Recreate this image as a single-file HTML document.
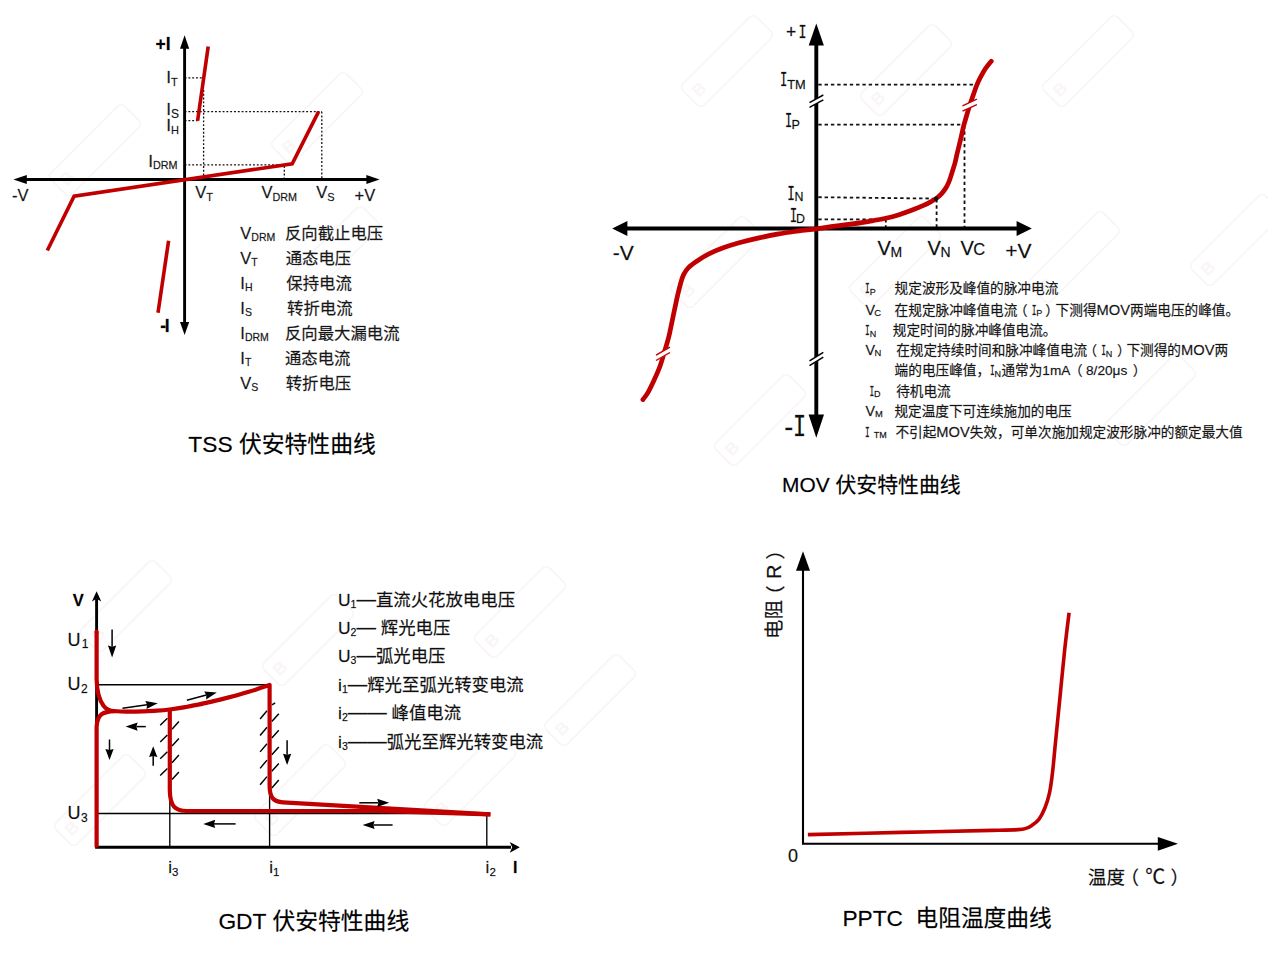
<!DOCTYPE html>
<html lang="zh-CN">
<head>
<meta charset="utf-8">
<title>TSS / MOV / GDT / PPTC 特性曲线</title>
<style>
html,body{margin:0;padding:0;background:#fff;}
body{width:1268px;height:958px;overflow:hidden;}
svg{display:block;}
text{white-space:pre;stroke:#000;stroke-width:.32px;stroke-opacity:.55;}
</style>
</head>
<body>
<svg width="1268" height="958" viewBox="0 0 1268 958">
<rect width="1268" height="958" fill="#fff"/>
<g id="wm" fill="none" stroke="#f9f5f5" stroke-width="1.6" font-family='"Liberation Sans", sans-serif' font-weight="bold" font-size="17">
<g transform="translate(317 118) rotate(-45)"><rect x="-52" y="-15" width="104" height="30" rx="5"/><text x="-46" y="6" fill="#faf6f6" stroke="none" style="stroke:none">B</text></g>
<g transform="translate(334 252) rotate(-45)"><rect x="-52" y="-15" width="104" height="30" rx="5"/><text x="-46" y="6" fill="#faf6f6" stroke="none" style="stroke:none">B</text></g>
<g transform="translate(95 150) rotate(-45)"><rect x="-52" y="-15" width="104" height="30" rx="5"/><text x="-46" y="6" fill="#faf6f6" stroke="none" style="stroke:none">B</text></g>
<g transform="translate(727 61) rotate(-45)"><rect x="-52" y="-15" width="104" height="30" rx="5"/><text x="-46" y="6" fill="#faf6f6" stroke="none" style="stroke:none">B</text></g>
<g transform="translate(906 70) rotate(-45)"><rect x="-52" y="-15" width="104" height="30" rx="5"/><text x="-46" y="6" fill="#faf6f6" stroke="none" style="stroke:none">B</text></g>
<g transform="translate(1088 61) rotate(-45)"><rect x="-52" y="-15" width="104" height="30" rx="5"/><text x="-46" y="6" fill="#faf6f6" stroke="none" style="stroke:none">B</text></g>
<g transform="translate(716 262) rotate(-45)"><rect x="-52" y="-15" width="104" height="30" rx="5"/><text x="-46" y="6" fill="#faf6f6" stroke="none" style="stroke:none">B</text></g>
<g transform="translate(895 262) rotate(-45)"><rect x="-52" y="-15" width="104" height="30" rx="5"/><text x="-46" y="6" fill="#faf6f6" stroke="none" style="stroke:none">B</text></g>
<g transform="translate(1074 257) rotate(-45)"><rect x="-52" y="-15" width="104" height="30" rx="5"/><text x="-46" y="6" fill="#faf6f6" stroke="none" style="stroke:none">B</text></g>
<g transform="translate(1236 240) rotate(-45)"><rect x="-52" y="-15" width="104" height="30" rx="5"/><text x="-46" y="6" fill="#faf6f6" stroke="none" style="stroke:none">B</text></g>
<g transform="translate(760 420) rotate(-45)"><rect x="-52" y="-15" width="104" height="30" rx="5"/><text x="-46" y="6" fill="#faf6f6" stroke="none" style="stroke:none">B</text></g>
<g transform="translate(1150 400) rotate(-45)"><rect x="-52" y="-15" width="104" height="30" rx="5"/><text x="-46" y="6" fill="#faf6f6" stroke="none" style="stroke:none">B</text></g>
<g transform="translate(126 606) rotate(-45)"><rect x="-52" y="-15" width="104" height="30" rx="5"/><text x="-46" y="6" fill="#faf6f6" stroke="none" style="stroke:none">B</text></g>
<g transform="translate(308 640) rotate(-45)"><rect x="-52" y="-15" width="104" height="30" rx="5"/><text x="-46" y="6" fill="#faf6f6" stroke="none" style="stroke:none">B</text></g>
<g transform="translate(520 612) rotate(-45)"><rect x="-52" y="-15" width="104" height="30" rx="5"/><text x="-46" y="6" fill="#faf6f6" stroke="none" style="stroke:none">B</text></g>
<g transform="translate(100 800) rotate(-45)"><rect x="-52" y="-15" width="104" height="30" rx="5"/><text x="-46" y="6" fill="#faf6f6" stroke="none" style="stroke:none">B</text></g>
<g transform="translate(300 790) rotate(-45)"><rect x="-52" y="-15" width="104" height="30" rx="5"/><text x="-46" y="6" fill="#faf6f6" stroke="none" style="stroke:none">B</text></g>
<g transform="translate(470 780) rotate(-45)"><rect x="-52" y="-15" width="104" height="30" rx="5"/><text x="-46" y="6" fill="#faf6f6" stroke="none" style="stroke:none">B</text></g>
<g transform="translate(590 700) rotate(-45)"><rect x="-52" y="-15" width="104" height="30" rx="5"/><text x="-46" y="6" fill="#faf6f6" stroke="none" style="stroke:none">B</text></g>
</g>
<g id="tss">
<g stroke="#111" stroke-width="1.3" stroke-dasharray="1.9 1.9" fill="none">
<path d="M184.6 77.8H203.4"/>
<path d="M184.6 111.7H322"/>
<path d="M184.6 120.7H197.5"/>
<path d="M184.6 164.9H291"/>
<path d="M203.6 90V179.5"/>
<path d="M284.3 166V179.5"/>
<path d="M321.8 111.7V179.5"/>
</g>
<path d="M26 179.5H367" stroke="#000" stroke-width="2.9" fill="none"/>
<path d="M184.6 48V323" stroke="#000" stroke-width="2.9" fill="none"/>
<polygon points="13.4,179.5 26.8,175.1 26.8,183.9" fill="#000"/>
<polygon points="379.6,179.5 366.4,175.1 366.4,183.9" fill="#000"/>
<polygon points="184.6,35.3 180.0,48.8 189.2,48.8" fill="#000"/>
<polygon points="184.6,335 180.0,322 189.2,322" fill="#000"/>
<path d="M47.3 250.5L74.1 196.1L292.2 163.8L318.6 111.6" stroke="#c00000" stroke-width="3.6" fill="none" stroke-linejoin="miter"/>
<path d="M208.2 46.6L197.6 120.7" stroke="#c00000" stroke-width="3.6" fill="none" stroke-linejoin="miter"/>
<path d="M168.6 240.7L158 312.8" stroke="#c00000" stroke-width="3.6" fill="none" stroke-linejoin="miter"/>
<g font-family='"Liberation Sans", "Noto Sans CJK SC", sans-serif' fill="#1a1a1a">
<text x="155.6" y="49.9" font-size="17.5" font-weight="bold" fill="#000">+I</text>
<text x="160.2" y="332" font-size="17.5" font-weight="bold" fill="#000">-<tspan dx="-1.3">I</tspan></text>
<text x="166.2" y="83.0" font-size="17.2">I<tspan font-size="11" dy="3" dx="0">T</tspan></text>
<text x="166.2" y="115.2" font-size="17.2">I<tspan font-size="12" dy="3" dx="0">S</tspan></text>
<text x="166.2" y="131.3" font-size="17.2">I<tspan font-size="11" dy="3" dx="0">H</tspan></text>
<text x="148.2" y="167.0" font-size="17.2">I<tspan font-size="10.8" dy="2.4" dx="0">DRM</tspan></text>
<text x="12" y="201.3" font-size="16.5">-V</text>
<text x="195.3" y="197.9" font-size="16.5">V<tspan font-size="11" dy="3" dx="0">T</tspan></text>
<text x="261.5" y="197.9" font-size="16.5">V<tspan font-size="10.8" dy="3" dx="0">DRM</tspan></text>
<text x="316.2" y="197.9" font-size="16.5">V<tspan font-size="11" dy="3" dx="0">S</tspan></text>
<text x="354.5" y="201.3" font-size="16.5">+V</text>
<text x="240.3" y="239.2" font-size="16.5">V<tspan font-size="10.5" dy="2.2" dx="0">DRM</tspan></text>
<text x="284.9" y="239.2" font-size="16.4">反向截止电压</text>
<text x="240.3" y="264.2" font-size="16.5">V<tspan font-size="10.5" dy="2.2" dx="0">T</tspan></text>
<text x="285.7" y="264.2" font-size="16.4">通态电压</text>
<text x="240.3" y="289.2" font-size="16.5">I<tspan font-size="10.5" dy="2.2" dx="0">H</tspan></text>
<text x="286.3" y="289.2" font-size="16.4">保持电流</text>
<text x="240.3" y="314.1" font-size="16.5">I<tspan font-size="10.5" dy="2.2" dx="0">S</tspan></text>
<text x="287.1" y="314.1" font-size="16.4">转折电流</text>
<text x="240.3" y="339.1" font-size="16.5">I<tspan font-size="10.5" dy="2.2" dx="0">DRM</tspan></text>
<text x="284.9" y="339.1" font-size="16.4">反向最大漏电流</text>
<text x="240.3" y="364.1" font-size="16.5">I<tspan font-size="10.5" dy="2.2" dx="0">T</tspan></text>
<text x="284.9" y="364.1" font-size="16.4">通态电流</text>
<text x="240.3" y="389.1" font-size="16.5">V<tspan font-size="10.5" dy="2.2" dx="0">S</tspan></text>
<text x="285.7" y="389.1" font-size="16.4">转折电压</text>
<text x="188.3" y="451.8" font-size="22.8" fill="#000">TSS 伏安特性曲线</text>
</g>
</g>
<g id="mov">
<g stroke="#111" stroke-width="1.8" stroke-dasharray="3.4 2.9" fill="none">
<path d="M818.3 84.6H975"/>
<path d="M818.3 124.6H964"/>
<path d="M818.3 197.2L936 198.6"/>
<path d="M818.3 219.4H886"/>
<path d="M885.8 219V228.5"/>
<path d="M936.6 199V228.5"/>
<path d="M964.5 125V228.5"/>
</g>
<path d="M626 228.5H1018" stroke="#000" stroke-width="3.9" fill="none"/>
<path d="M816.3 44V416" stroke="#000" stroke-width="3.9" fill="none"/>
<polygon points="612.2,228.5 627.4,220.9 627.4,236.1" fill="#000"/>
<polygon points="1031.8,228.5 1016.6,220.9 1016.6,236.1" fill="#000"/>
<polygon points="816.3,23.6 808.6999999999999,45.4 823.9,45.4" fill="#000"/>
<polygon points="816.3,437.8 808.5999999999999,414.4 824.0,414.4" fill="#000"/>
<path d="M642.9 399.6C643.7 398.4 646.1 395.8 647.9 392.6C649.7 389.5 651.8 385.0 653.8 380.7C655.8 376.4 658.0 371.8 659.8 366.8C661.6 361.9 663.2 355.9 664.7 351.0C666.2 346.1 667.5 341.7 668.7 337.1C669.9 332.5 670.7 327.8 671.7 323.2C672.7 318.6 673.6 313.9 674.6 309.3C675.6 304.7 676.6 299.7 677.6 295.4C678.6 291.1 679.6 287.0 680.6 283.5C681.6 280.0 682.3 277.2 683.6 274.6C684.9 272.0 686.2 269.9 688.5 267.6C690.8 265.3 694.0 263.0 697.5 260.7C701.0 258.4 705.1 255.8 709.4 253.7C713.7 251.5 718.3 249.6 723.3 247.8C728.2 246.0 733.1 244.5 739.1 242.8C745.1 241.2 752.4 239.4 759.0 237.9C765.6 236.4 772.2 235.1 778.8 233.9C785.4 232.7 792.4 231.8 798.7 230.9C805.0 230.1 810.3 229.6 816.4 228.8C822.5 228.0 828.9 227.0 835.2 226.2C841.5 225.3 847.9 224.6 854.2 223.7C860.5 222.8 867.9 221.5 873.1 220.6C878.4 219.7 881.5 219.2 885.7 218.3C889.9 217.4 894.1 216.2 898.3 214.9C902.5 213.6 906.7 212.1 910.9 210.5C915.1 208.9 920.2 206.9 923.6 205.4C927.0 203.9 929.0 202.8 931.1 201.6C933.2 200.4 934.5 199.8 936.2 198.5C937.9 197.2 939.6 195.8 941.2 194.1C942.8 192.4 944.3 190.4 945.6 188.4C946.9 186.4 947.7 184.7 948.8 182.1C949.9 179.5 951.0 175.9 952.0 172.6C953.0 169.3 954.3 165.6 955.1 162.5C955.9 159.4 956.1 157.8 957.0 154.0C957.9 150.2 959.5 144.0 960.6 139.4C961.7 134.8 962.6 130.1 963.6 126.2C964.6 122.3 965.5 119.5 966.5 116.0C967.5 112.5 968.7 108.4 969.8 105.0C970.9 101.6 972.0 98.8 973.1 95.5C974.2 92.2 975.5 88.3 976.7 85.3C977.9 82.3 978.9 80.1 980.4 77.3C981.9 74.5 983.7 71.2 985.5 68.5C987.3 65.8 990.3 62.4 991.3 61.2" stroke="#c00000" stroke-width="4.7" fill="none" stroke-linecap="round" stroke-linejoin="round"/>
<path d="M809.5 105.0L823.3 97.4" stroke="#fff" stroke-width="4.8" fill="none"/>
<path d="M809.5 102.6L823.3 95.0" stroke="#000" stroke-width="1.5" fill="none"/>
<path d="M809.5 107.4L823.3 99.8" stroke="#000" stroke-width="1.5" fill="none"/>
<path d="M809.5 363.2L823.3 354.8" stroke="#fff" stroke-width="4.8" fill="none"/>
<path d="M809.5 360.8L823.3 352.4" stroke="#000" stroke-width="1.5" fill="none"/>
<path d="M809.5 365.6L823.3 357.2" stroke="#000" stroke-width="1.5" fill="none"/>
<path d="M962.5 108.5L976.9 101.9" stroke="#fff" stroke-width="5.4" fill="none"/>
<path d="M962.5 105.8L976.9 99.2" stroke="#c00000" stroke-width="1.4" fill="none"/>
<path d="M962.5 111.2L976.9 104.6" stroke="#c00000" stroke-width="1.4" fill="none"/>
<path d="M656.0 357.8L670.0 349.8" stroke="#fff" stroke-width="5.4" fill="none"/>
<path d="M656.0 355.1L670.0 347.1" stroke="#c00000" stroke-width="1.4" fill="none"/>
<path d="M656.0 360.5L670.0 352.5" stroke="#c00000" stroke-width="1.4" fill="none"/>
<circle cx="936" cy="198.7" r="2.3" fill="#111"/>
<g font-family='"Liberation Sans", "Noto Sans CJK SC", sans-serif' fill="#111">
<text x="786" y="38.3" font-size="17.5">+</text>
<text transform="translate(798.50 38.3) scale(0.785 1)" font-family='"DejaVu Sans Mono", "Liberation Mono", monospace' font-size="17.0" fill="#111">I</text>
<text transform="translate(779.91 85.5) scale(0.629 1)" font-family='"DejaVu Sans Mono", "Liberation Mono", monospace' font-size="19.3" fill="#111">I</text>
<text x="787.2" y="89" font-size="12.8">TM</text>
<text transform="translate(785.03 126.6) scale(0.621 1)" font-family='"DejaVu Sans Mono", "Liberation Mono", monospace' font-size="19.2" fill="#111">I</text>
<text x="791.4" y="129.4" font-size="12.6">P</text>
<text transform="translate(787.26 199.6) scale(0.631 1)" font-family='"DejaVu Sans Mono", "Liberation Mono", monospace' font-size="20.0" fill="#111">I</text>
<text x="794.4" y="201.4" font-size="12.4">N</text>
<text transform="translate(789.69 221.6) scale(0.636 1)" font-family='"DejaVu Sans Mono", "Liberation Mono", monospace' font-size="19.5" fill="#111">I</text>
<text x="796" y="223.2" font-size="12.4">D</text>
<text x="612.8" y="259.8" font-size="21">-V</text>
<text x="877.6" y="254.8" font-size="20">V<tspan font-size="14" dy="2.4" dx="-0.5">M</tspan></text>
<text x="927.6" y="254.8" font-size="20">V<tspan font-size="14" dy="2.4" dx="-0.5">N</tspan></text>
<text x="960.4" y="254.8" font-size="20">V<tspan font-size="16.5" dy="0" dx="-0.6">C</tspan></text>
<text x="1005.2" y="257.8" font-size="21">+V</text>
<text x="784.2" y="435.8" font-size="27">-</text>
<text transform="translate(793.03 435.8) scale(0.754 1)" font-family='"DejaVu Sans Mono", "Liberation Mono", monospace' font-size="29.0" fill="#111">I</text>
</g>
<g font-family='"Liberation Sans", "Noto Sans CJK SC", sans-serif' fill="#1a1a1a" font-size="13.65">
<text transform="translate(865.09 293) scale(0.579 1)" font-family='"DejaVu Sans Mono", "Liberation Mono", monospace' font-size="13.6" fill="#1a1a1a">I</text>
<text x="869.7" y="294.6" font-size="9.0">P</text>
<text x="894.6" y="293">规定波形及峰值的脉冲电流</text>
<text x="865.6" y="314.6" font-size="14.3">V</text>
<text x="874.2" y="315.6" font-size="9.4">C</text>
<text x="894.6" y="314.6">在规定脉冲峰值电流</text>
<text x="1013.88" y="314.6">（</text>
<text transform="translate(1031.69 314.6) scale(0.579 1)" font-family='"DejaVu Sans Mono", "Liberation Mono", monospace' font-size="13.6" fill="#1a1a1a">I</text>
<text x="1036.3" y="316.2" font-size="9.0">P</text>
<text x="1045.15" y="314.6">）</text>
<text x="1055.6" y="314.6">下测得<tspan font-size="14.7">MOV</tspan>两端电压的峰值。</text>
<text transform="translate(865.09 334.9) scale(0.579 1)" font-family='"DejaVu Sans Mono", "Liberation Mono", monospace' font-size="13.6" fill="#1a1a1a">I</text>
<text x="869.7" y="336.5" font-size="9.0">N</text>
<text x="892.8" y="334.9">规定时间的脉冲峰值电流。</text>
<text x="865.6" y="355.4" font-size="14.3">V</text>
<text x="874.6" y="356.4" font-size="9.4">N</text>
<text x="896.2" y="355.4">在规定持续时间和脉冲峰值电流</text>
<text x="1083.48" y="355.4">（</text>
<text transform="translate(1101.19 355.4) scale(0.579 1)" font-family='"DejaVu Sans Mono", "Liberation Mono", monospace' font-size="13.6" fill="#1a1a1a">I</text>
<text x="1105.8" y="357.0" font-size="9.0">N</text>
<text x="1117.05" y="355.4">）</text>
<text x="1126.4" y="355.4">下测得的<tspan font-size="14.7">MOV</tspan>两</text>
<text x="894.6" y="375.4">端的电压峰值，</text>
<text transform="translate(989.99 375.4) scale(0.579 1)" font-family='"DejaVu Sans Mono", "Liberation Mono", monospace' font-size="13.6" fill="#1a1a1a">I</text>
<text x="994.6" y="377.0" font-size="9.0">N</text>
<text x="1001.4" y="375.4">通常为1mA</text>
<text x="1068.88" y="375.4">（</text>
<text x="1086.0" y="375.4">8/20μs</text>
<text x="1132.75" y="375.4">）</text>
<text transform="translate(869.49 395.6) scale(0.579 1)" font-family='"DejaVu Sans Mono", "Liberation Mono", monospace' font-size="13.6" fill="#1a1a1a">I</text>
<text x="874.1" y="397.2" font-size="9.0">D</text>
<text x="896.2" y="395.6">待机电流</text>
<text x="865.6" y="416.3" font-size="14.3">V</text>
<text x="875.0" y="417.3" font-size="9.4">M</text>
<text x="894.4" y="416.3">规定温度下可连续施加的电压</text>
<text transform="translate(865.09 436.8) scale(0.579 1)" font-family='"DejaVu Sans Mono", "Liberation Mono", monospace' font-size="13.6" fill="#1a1a1a">I</text>
<text x="873.8" y="438.4" font-size="9.0">TM</text>
<text x="895.4" y="436.8">不引起<tspan font-size="14.7">MOV</tspan>失效，可单次施加规定波形脉冲的额定最大值</text>
</g>
<text x="782" y="491.9" font-size="20.9" font-family='"Liberation Sans", "Noto Sans CJK SC", sans-serif' fill="#000">MOV 伏安特性曲线</text>
</g>
<g id="gdt">
<g stroke="#000" stroke-width="1.35" fill="none">
<path d="M96.6 684.8H270" stroke-width="1.5"/>
<path d="M96.6 813.5H487" stroke-width="1.3"/>
<path d="M169.8 708V847.3"/>
<path d="M269.6 686V847.3"/>
<path d="M486.8 815V847.3"/>
</g>
<g stroke="#000" stroke-width="1.45" fill="none">
<path d="M160.2 725.3L167.4 718.3M172 729.2L178.9 721.6"/>
<path d="M160.2 742.0L167.4 735.0M172 746.0L178.9 738.4"/>
<path d="M160.2 758.8L167.4 751.8M172 762.7L178.9 755.1"/>
<path d="M160.2 775.5L167.4 768.5M172 779.5L178.9 771.9"/>
<path d="M272 704.9L275.2 702.9"/>
<path d="M260.1 719.0L267 710.8M271.8 721.5L278.8 713.7"/>
<path d="M260.1 735.5L267 727.2M271.8 738.1L278.8 730.3"/>
<path d="M260.1 751.9L267 743.7M271.8 754.7L278.8 746.9"/>
<path d="M260.1 768.4L267 760.1M271.8 771.3L278.8 763.5"/>
<path d="M260.1 784.8L267 776.6M271.8 787.9L278.8 780.1"/>
</g>
<path d="M96.6 599V847.3H511" stroke="#000" stroke-width="2.9" fill="none" stroke-linejoin="miter"/>
<polygon points="96.6,591.2 91.89999999999999,601.4 96.6,598.8 101.3,601.4" fill="#000"/>
<polygon points="519.8,847.3 509.8,841.9 512.2,847.3 509.8,852.6999999999999" fill="#000"/>
<path d="M96.6 631.6V679C96.8 691 99.4 700 103.5 705.8C106.4 709.6 110 711 114.4 711.1C116.7 711.2 123.7 711.7 128.4 711.7C133.1 711.8 137.9 711.6 142.6 711.4C147.3 711.2 152.3 711.0 156.8 710.7C161.3 710.4 164.9 710.1 169.6 709.5C174.3 708.9 180.2 708.0 185.2 707.1C190.2 706.2 194.7 705.4 199.4 704.4C204.1 703.4 208.9 702.2 213.6 701.1C218.3 700.0 223.1 698.8 227.8 697.6C232.5 696.4 237.3 695.1 242.0 693.7C246.7 692.3 251.6 690.9 256.2 689.4C260.8 687.9 267.4 685.7 269.6 685.0V785C269.6 797.6 273 801.6 283 802.4L490.4 814.4" stroke="#c00000" stroke-width="4.2" fill="none" stroke-linejoin="round"/>
<circle cx="96.6" cy="631.8" r="2.1" fill="#c00000"/>
<path d="M490.4 814.4L376 811H187C175 811 170 806.4 169.8 790V709" stroke="#c00000" stroke-width="4.2" fill="none" stroke-linejoin="round"/>
<path d="M114.4 711.1C108 711.4 104 712.6 101.6 714.2C98.4 717 96.8 720.4 96.6 727V847.3" stroke="#c00000" stroke-width="4.2" fill="none" stroke-linejoin="round"/>
<path d="M112.1 629.5L112.1 646.8" stroke="#000" stroke-width="1.5" fill="none"/>
<polygon points="112.1,657.6 108.0,645.6 112.1,646.8 116.2,645.6" fill="#000"/>
<path d="M122.5 708.3L147.1 704.7" stroke="#000" stroke-width="1.5" fill="none"/>
<polygon points="157.8,703.2 146.5,709.0 147.1,704.7 145.3,700.9" fill="#000"/>
<path d="M186.9 700.2L206.3 695.1" stroke="#000" stroke-width="1.5" fill="none"/>
<polygon points="216.8,692.4 206.2,699.4 206.3,695.1 204.2,691.5" fill="#000"/>
<path d="M145.8 726.6L136.4 726.6" stroke="#000" stroke-width="1.5" fill="none"/>
<polygon points="125.6,726.6 137.6,722.5 136.4,726.6 137.6,730.7" fill="#000"/>
<path d="M109.5 739.5L109.5 750.1" stroke="#000" stroke-width="1.5" fill="none"/>
<polygon points="109.5,760.0 105.4,749.0 109.5,750.1 113.6,749.0" fill="#000"/>
<path d="M153.2 765.7L153.2 755.9" stroke="#000" stroke-width="1.5" fill="none"/>
<polygon points="153.2,746.2 157.3,757.0 153.2,755.9 149.1,757.0" fill="#000"/>
<path d="M287.1 740.2L287.1 754.8" stroke="#000" stroke-width="1.5" fill="none"/>
<polygon points="287.1,765.1 283.0,753.7 287.1,754.8 291.2,753.7" fill="#000"/>
<path d="M235.6 823.9L214.0 823.9" stroke="#000" stroke-width="1.5" fill="none"/>
<polygon points="203.2,823.9 215.2,819.8 214.0,823.9 215.2,828.0" fill="#000"/>
<path d="M359.3 802.8L378.4 802.8" stroke="#000" stroke-width="1.5" fill="none"/>
<polygon points="389.2,802.8 377.2,806.9 378.4,802.8 377.2,798.7" fill="#000"/>
<path d="M392.6 825.0L373.4 825.0" stroke="#000" stroke-width="1.5" fill="none"/>
<polygon points="362.6,825.0 374.6,820.9 373.4,825.0 374.6,829.1" fill="#000"/>
<g font-family='"Liberation Sans", "Noto Sans CJK SC", sans-serif' fill="#111">
<text x="72.8" y="606.2" font-size="16.5" font-weight="bold" fill="#000">V</text>
<text x="513" y="872.6" font-size="16" font-weight="bold" fill="#000">I</text>
<text x="67.5" y="645.9" font-size="18">U<tspan font-size="12" dy="1.6" dx="1.2">1</tspan></text>
<text x="67.5" y="690.2" font-size="18">U<tspan font-size="12" dy="2.4" dx="0.4">2</tspan></text>
<text x="67.5" y="819.2" font-size="18">U<tspan font-size="12" dy="2.4" dx="0.4">3</tspan></text>
<text x="168.2" y="872.5" font-size="17">i<tspan font-size="11.5" dy="3.2" dx="0">3</tspan></text>
<text x="269.2" y="872.5" font-size="17">i<tspan font-size="11.5" dy="3.2" dx="0">1</tspan></text>
<text x="485.6" y="872.5" font-size="17">i<tspan font-size="11.5" dy="3.2" dx="0">2</tspan></text>
<text x="338" y="605.8" font-size="17.4">U<tspan font-size="10.5" dy="2">1</tspan><tspan dy="-2" font-size="19.5">—</tspan><tspan>直流火花放电电压</tspan></text>
<text x="338" y="634.2" font-size="17.4">U<tspan font-size="10.5" dy="2">2</tspan><tspan dy="-2" font-size="19.5">—</tspan><tspan> 辉光电压</tspan></text>
<text x="338" y="662.2" font-size="17.4">U<tspan font-size="10.5" dy="2">3</tspan><tspan dy="-2" font-size="19.5">—</tspan><tspan>弧光电压</tspan></text>
<text x="338" y="690.9" font-size="17.4">i<tspan font-size="10.5" dy="2">1</tspan><tspan dy="-2" font-size="19.5">—</tspan><tspan>辉光至弧光转变电流</tspan></text>
<text x="338" y="719.4" font-size="17.4">i<tspan font-size="10.5" dy="2">2</tspan><tspan dy="-2" font-size="19.5">——</tspan><tspan> 峰值电流</tspan></text>
<text x="338" y="747.6" font-size="17.4">i<tspan font-size="10.5" dy="2">3</tspan><tspan dy="-2" font-size="19.5">——</tspan><tspan>弧光至辉光转变电流</tspan></text>
<text x="218.4" y="929.2" font-size="22.8" fill="#000">GDT 伏安特性曲线</text>
</g>
</g>
<g id="pptc">
<path d="M803.0 569V843.8H1159" stroke="#000" stroke-width="2.1" fill="none"/>
<polygon points="803.0,551.2 796.0,570.8 810.0,570.8" fill="#000"/>
<polygon points="1178,843.8 1157.8,836.9 1157.8,850.6999999999999" fill="#000"/>
<path d="M807.9 834.6C823.4 834.2 870.4 833.1 901.1 832.4C931.8 831.7 972.4 830.9 991.9 830.4C1011.4 829.9 1012.3 829.9 1018.0 829.6C1023.7 829.3 1023.7 829.1 1026.0 828.4C1028.3 827.7 1029.6 826.9 1031.8 825.4C1034.0 823.9 1036.7 822.2 1038.9 819.3C1041.1 816.4 1043.1 812.4 1044.9 808.0C1046.7 803.6 1048.2 798.8 1049.5 792.8C1050.8 786.8 1051.6 780.3 1052.6 771.7C1053.6 763.1 1054.3 754.0 1055.6 741.4C1056.8 728.8 1058.6 711.1 1060.1 696.0C1061.6 680.9 1063.1 664.5 1064.6 650.6C1066.1 636.7 1068.3 619.0 1069.1 612.7" stroke="#c00000" stroke-width="3.6" fill="none"/>
<g font-family='"Liberation Sans", "Noto Sans CJK SC", sans-serif' fill="#111">
<text x="788" y="862" font-size="18">0</text>
<text x="1088" y="883.6" font-size="18.5">温度<tspan x="1120.5">（</tspan><tspan x="1145.2" font-size="20">℃</tspan><tspan x="1170.5" font-size="18.5">）</tspan></text>
<text transform="translate(781.4 639.1) rotate(-90)" font-size="19.3" x="0" y="0">电<tspan x="19.8">阻</tspan><tspan x="34.4" dy="2">（</tspan><tspan x="60.2" dy="-2" font-size="20">R</tspan><tspan x="79.7" dy="2" font-size="19.3">）</tspan></text>
<text x="842.4" y="926.2" font-size="22.7" fill="#000" xml:space="preserve">PPTC  电阻温度曲线</text>
</g>
</g>
</svg>
</body>
</html>
